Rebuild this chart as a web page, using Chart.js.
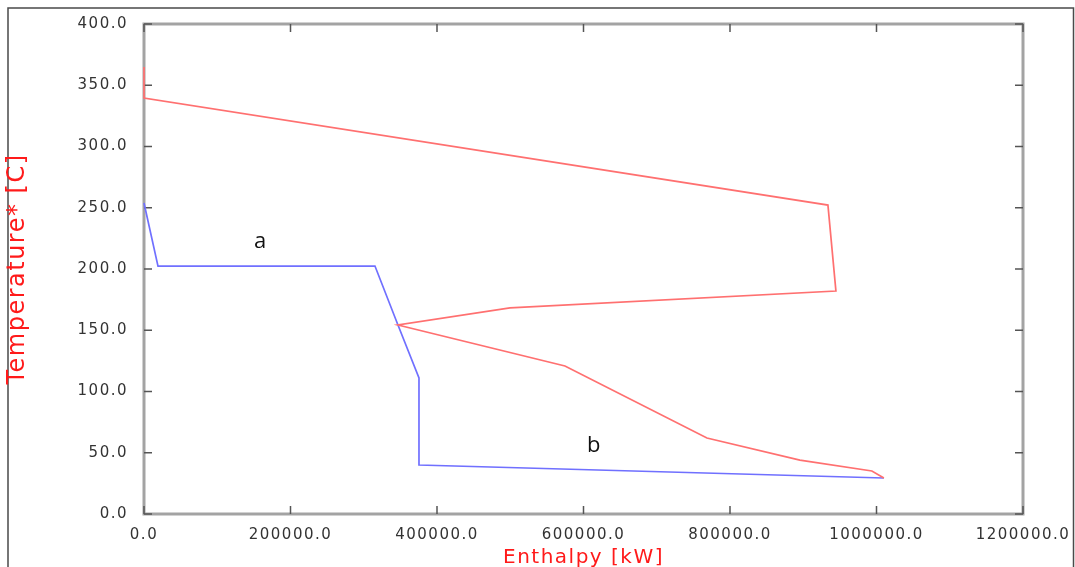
<!DOCTYPE html>
<html>
<head>
<meta charset="utf-8">
<script src="https://cdn.jsdelivr.net/npm/chart.js@4.4.1/dist/chart.umd.min.js"></script>
<style>
html,body{margin:0;padding:0;background:#fff;}
#wrap{width:1075px;height:567px;position:relative;overflow:hidden;}
canvas{display:block;}
</style>
</head>
<body>
<div id="wrap"><canvas id="c" width="1075" height="567"></canvas></div>
<script>
// ---- data ----
const hotEnthalpy = [0, 0, 933700, 944600, 499600, 346700, 574700, 768500, 895400, 993700, 1010100];
const hotTemp     = [365, 339.6, 252.2, 182, 168.2, 154.3, 120.8, 62, 44, 35.1, 29.4];

const coldEnthalpy = [0, 19100, 315300, 346700, 375400, 375400, 1010100];
const coldTemp     = [253.9, 202.4, 202.4, 154.3, 111, 40, 29.4];

const xTickValues = [0, 200000, 400000, 600000, 800000, 1000000, 1200000];
const yTickValues = [0, 50, 100, 150, 200, 250, 300, 350, 400];

const noteTexts = ['a', 'b'];
const noteX = [150000, 604700];
const noteY = [217, 50.6];

const xTitle = 'Enthalpy [kW]';
const yTitle = 'Temperature* [C]';

function pts(xs, ys){ return xs.map((x,i)=>({x:x, y:ys[i]})); }

const spacingPlugin = {
  id: 'spacing',
  beforeUpdate(chart){ chart.ctx.letterSpacing = '1.5px'; },
  beforeLayout(chart){ chart.ctx.letterSpacing = '1.5px'; },
  beforeDraw(chart){ chart.ctx.letterSpacing = '1.5px'; }
};

const framePlugin = {
  id: 'frame',
  beforeDraw(chart){
    const ctx = chart.ctx;
    ctx.save();
    ctx.fillStyle = '#ffffff';
    ctx.fillRect(0,0,chart.width,chart.height);
    ctx.strokeStyle = '#4a4a4a';
    ctx.lineWidth = 1.5;
    ctx.strokeRect(8, 8, 1065.5, 620);
    ctx.restore();
  },
  beforeDatasetsDraw(chart){
    const ctx = chart.ctx;
    const a = chart.chartArea;
    const xs = chart.scales.x, ys = chart.scales.y;
    ctx.save();
    ctx.strokeStyle = '#a3a3a3';
    ctx.lineWidth = 3;
    ctx.strokeRect(a.left, a.top, a.right - a.left, a.bottom - a.top);
    ctx.strokeStyle = '#555555';
    ctx.lineWidth = 1.5;
    const L = 8;
    ctx.beginPath();
    xTickValues.forEach(v=>{
      const px = xs.getPixelForValue(v);
      ctx.moveTo(px, a.bottom); ctx.lineTo(px, a.bottom - L);
      ctx.moveTo(px, a.top); ctx.lineTo(px, a.top + L);
    });
    yTickValues.forEach(v=>{
      const py = ys.getPixelForValue(v);
      ctx.moveTo(a.left, py); ctx.lineTo(a.left + L, py);
      ctx.moveTo(a.right, py); ctx.lineTo(a.right - L, py);
    });
    ctx.stroke();
    ctx.restore();
  },
  afterDatasetsDraw(chart){
    const ctx = chart.ctx;
    const xs = chart.scales.x, ys = chart.scales.y;
    ctx.save();
    ctx.letterSpacing = '0px';
    ctx.fillStyle = '#111111';
    ctx.font = '22px "Open Sans"';
    ctx.textAlign = 'left';
    ctx.textBaseline = 'alphabetic';
    noteTexts.forEach((t,i)=>{
      ctx.fillText(t, xs.getPixelForValue(noteX[i]), ys.getPixelForValue(noteY[i]));
    });
    ctx.restore();
  }
};

new Chart(document.getElementById('c'), {
  type: 'scatter',
  data: {
    datasets: [
      {
        label: 'Hot',
        data: pts(hotEnthalpy, hotTemp),
        showLine: true,
        borderColor: 'rgb(255,112,112)',
        borderWidth: 1.7,
        pointRadius: 0,
        tension: 0,
        clip: false
      },
      {
        label: 'Cold',
        data: pts(coldEnthalpy, coldTemp),
        showLine: true,
        borderColor: 'rgb(112,112,255)',
        borderWidth: 1.7,
        pointRadius: 0,
        tension: 0,
        clip: false
      }
    ]
  },
  options: {
    responsive: false,
    animation: false,
    devicePixelRatio: 1,
    layout: { padding: { top: 24, right: 52, left: 0, bottom: 0 } },
    plugins: { legend: { display: false }, tooltip: { enabled: false } },
    scales: {
      x: {
        type: 'linear',
        min: 0, max: 1200000,
        afterBuildTicks(scale){ scale.ticks = xTickValues.map(v=>({value:v})); },
        afterFit(scale){ scale.height = 53; scale.paddingLeft = 0; scale.paddingRight = 0; },
        grid: { display: false, drawTicks: false, tickLength: 0 },
        border: { display: false },
        ticks: {
          autoSkip: false, maxRotation: 0, minRotation: 0,
          padding: 12,
          color: '#333333',
          font: { family: '"DejaVu Sans"', size: 15 },
          callback: v => Number(v).toFixed(1)
        },
        title: {
          display: true, text: xTitle, color: '#ff1a1a',
          font: { family: '"DejaVu Sans"', size: 20 },
          padding: { top: 0, bottom: -3 }
        }
      },
      y: {
        type: 'linear',
        min: 0, max: 400,
        afterBuildTicks(scale){ scale.ticks = yTickValues.map(v=>({value:v})); },
        afterFit(scale){ scale.width = 144; scale.paddingTop = 0; scale.paddingBottom = 0; },
        grid: { display: false, drawTicks: false, tickLength: 0 },
        border: { display: false },
        ticks: {
          autoSkip: false,
          padding: 16,
          color: '#333333',
          font: { family: '"DejaVu Sans"', size: 15 },
          callback: v => Number(v).toFixed(1)
        },
        title: {
          display: true, text: yTitle, color: '#ff1a1a',
          font: { family: '"DejaVu Sans"', size: 24 },
          padding: { top: 3, bottom: 0 }
        }
      }
    }
  },
  plugins: [spacingPlugin, framePlugin]
});
</script>
</body>
</html>
